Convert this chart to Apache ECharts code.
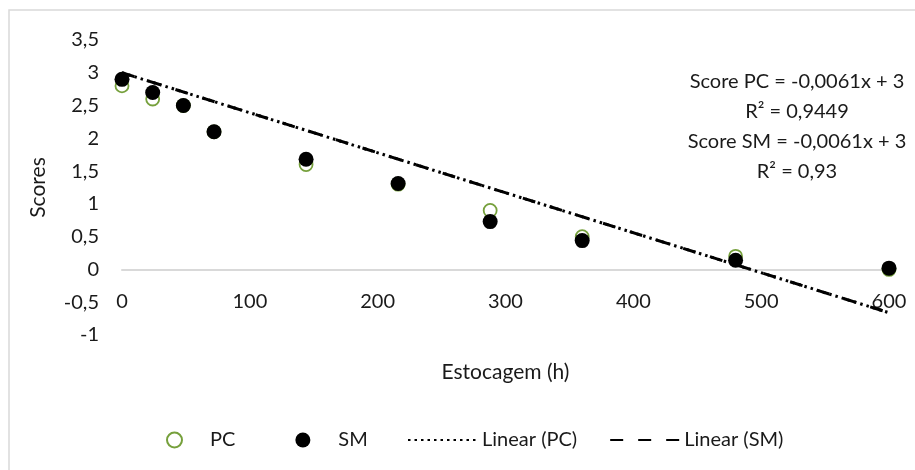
<!DOCTYPE html>
<html><head><meta charset="utf-8">
<script src="https://cdn.jsdelivr.net/npm/echarts@6/dist/echarts.min.js"></script>
<style>html,body{margin:0;padding:0;background:#fff}#c{width:915px;height:470px}</style>
</head><body><div id="c"></div>
<script>
const hours = [0, 24, 48, 72, 144, 216, 288, 360, 480, 600];
const scorePC = [2.8, 2.6, 2.5, 2.1, 1.6, 1.3, 0.9, 0.5, 0.2, 0.0];
const scoreSM = [2.9, 2.7, 2.5, 2.1, 1.68, 1.31, 0.73, 0.44, 0.14, 0.02];
const trendX = [0, 600];
const trendPC = [3, -0.66];
const trendSM = [3, -0.66];
const eqLines = ['Score PC = -0,0061x + 3', 'R² = 0,9449', 'Score SM = -0,0061x + 3', 'R² = 0,93'];
const yTicks = {min: -1, max: 3.5, interval: 0.5};
const xTicks = {min: 0, max: 600, interval: 100};

const FONT = 'Lato';
const TXT = '#1a1a1a';
const chart = echarts.init(document.getElementById('c'), null, {renderer: 'canvas'});
const pairs = (xs, ys) => xs.map((x, i) => [x, ys[i]]);

chart.setOption({
  animation: false,
  textStyle: {fontFamily: FONT, color: TXT},
  grid: {left: 122, right: 26, top: 40, bottom: 135},
  xAxis: {
    type: 'value', min: xTicks.min, max: xTicks.max, interval: xTicks.interval,
    name: 'Estocagem (h)', nameLocation: 'middle', nameGap: 27,
    nameTextStyle: {fontFamily: FONT, fontSize: 21, color: TXT},
    axisLine: {onZero: true, lineStyle: {color: '#d9d9d9', width: 2}},
    axisTick: {show: false},
    splitLine: {show: false},
    axisLabel: {fontFamily: FONT, fontSize: 20, color: TXT, margin: -43}
  },
  yAxis: {
    type: 'value', min: yTicks.min, max: yTicks.max, interval: yTicks.interval,
    name: 'Scores', nameLocation: 'middle', nameGap: 73, nameRotate: 90,
    nameTextStyle: {fontFamily: FONT, fontSize: 21, color: TXT},
    axisLine: {show: false}, axisTick: {show: false}, splitLine: {show: false},
    axisLabel: {fontFamily: FONT, fontSize: 20, color: TXT, margin: 23,
      formatter: v => String(v).replace('.', ',')}
  },
  legend: [
    {data: ['PC', 'SM'], left: 161, top: 425, itemWidth: 15, itemHeight: 15, itemGap: 60,
     textStyle: {fontFamily: FONT, fontSize: 20, color: TXT, padding: [0, 0, 0, 23]}},
    {data: ['Linear (PC)', 'Linear (SM)'], left: 402, top: 425, itemWidth: 71, itemHeight: 14, itemGap: 32,
     itemStyle: {opacity: 0},
     textStyle: {fontFamily: FONT, fontSize: 20, color: TXT, padding: [0, 0, 0, -2]}}
  ],
  graphic: [
    {type: 'rect', shape: {x: 9, y: 10, width: 950, height: 500}, silent: true,
     style: {fill: 'none', stroke: '#d9d9d9', lineWidth: 1.5}},
    ...eqLines.map((t, i) => ({
      type: 'text', x: 797, y: 82 + i * 30, silent: true,
      style: {text: t, fontFamily: FONT, fontSize: 20, fill: TXT, align: 'center', verticalAlign: 'middle'}
    }))
  ],
  series: [
    {name: 'Linear (PC)', type: 'line', data: pairs(trendX, trendPC), symbol: 'none', z: 3,
     lineStyle: {color: '#000', width: 3, type: [2.5, 4]}, itemStyle: {color: '#000'}},
    {name: 'Linear (SM)', type: 'line', data: pairs(trendX, trendSM), symbol: 'none', z: 3,
     lineStyle: {color: '#000', width: 3, type: [13, 15]}, itemStyle: {color: '#000'}},
    {name: 'PC', type: 'scatter', data: pairs(hours, scorePC), symbol: 'circle', symbolSize: 13, z: 4,
     itemStyle: {color: '#fff', borderColor: '#76a03c', borderWidth: 1.8, opacity: 1}},
    {name: 'SM', type: 'scatter', data: pairs(hours, scoreSM), symbol: 'circle', symbolSize: 15, z: 5,
     itemStyle: {color: '#000', opacity: 1}}
  ]
});
</script></body></html>
